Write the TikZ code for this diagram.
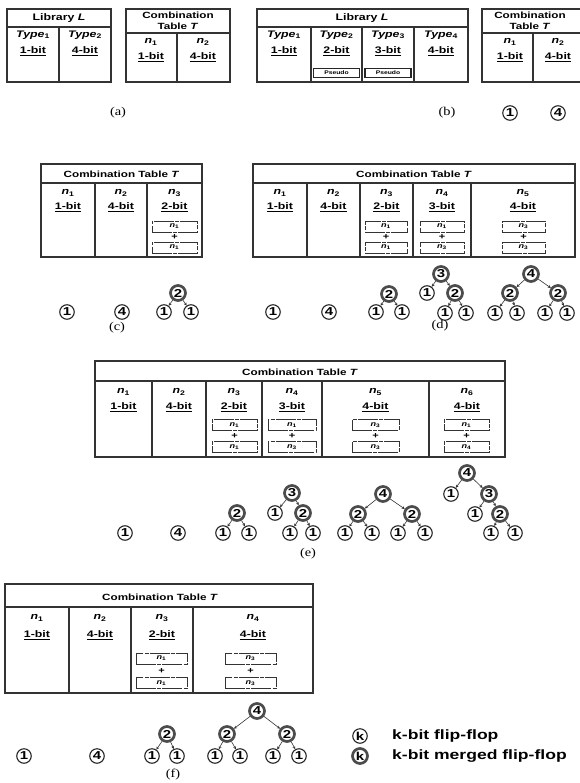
\documentclass[tikz,border=0pt]{standalone}
\usepackage{fontspec}
\setmainfont{Liberation Sans}[FakeStretch=1.3]
\newfontfamily\labfont{Liberation Serif}[FakeStretch=1.2]
\usetikzlibrary{arrows.meta}
\newcommand{\nn}[1]{\textit{n}\textsubscript{#1}}
\newcommand{\ty}[1]{\textit{Type}\textsubscript{#1}}
\newcommand{\ub}[1]{\underline{#1-bit}}
\tikzset{
 tbl/.style={draw=black!80,line width=1.2pt},
 tx/.style={inner sep=0pt,font=\fontsize{9.5}{10}\selectfont\bfseries},
 hd/.style={inner sep=0pt,font=\fontsize{9}{10.5}\selectfont\bfseries,align=center},
 sub/.style={draw=black!80,line width=0.8pt,dash pattern=on 20pt off 1.2pt on 4pt off 1.2pt,minimum height=11pt,inner sep=0pt,font=\fontsize{7}{7}\selectfont\bfseries},
 plus/.style={inner sep=0pt,font=\fontsize{8.5}{8}\selectfont\bfseries},
 ff/.style={circle,draw=black!85,line width=1.1pt,minimum size=14.5pt,inner sep=0pt,font=\fontsize{11.5}{11}\selectfont\bfseries},
 mff/.style={circle,draw=black!70,line width=2.7pt,minimum size=15pt,inner sep=0pt,font=\fontsize{11.5}{11}\selectfont\bfseries},
 arr/.style={-{Stealth[length=3pt,width=3pt]},draw=black!80,line width=0.6pt},
 lab/.style={inner sep=0pt,font=\labfont\fontsize{12}{12}\selectfont},
 pseudo/.style={draw=black!85,line width=1.3pt,inner sep=0pt,minimum width=46pt,minimum height=9.5pt,font=\fontsize{5.2}{5}\selectfont\bfseries},
 leg/.style={inner sep=0pt,anchor=west,font=\fontsize{13.5}{13}\selectfont\bfseries}
}
\begin{document}
\begin{tikzpicture}[x=1pt,y=-1pt]
\useasboundingbox (0,0) rectangle (579,783);
% ---------- (a) ----------
\draw[tbl] (7,9) rectangle (111,82) (7,27)--(111,27) (59,27)--(59,82);
\node[tx] (aLh) at (59,18) {Library \textit{L}};
\node[tx] (aLt1) at (33,35) {\ty{1}};
\node[tx] (aLb1) at (33,51) {\ub{1}};
\node[tx] (aLt2) at (85,35) {\ty{2}};
\node[tx] (aLb2) at (85,51) {\ub{4}};
\draw[tbl] (126,9) rectangle (230,82) (126,33)--(230,33) (177,33)--(177,82);
\node[hd] (aTh) at (178,21) {Combination\\Table \textit{T}};
\node[tx] (aTn1) at (151,42) {\nn{1}};
\node[tx] (aTb1) at (151,57) {\ub{1}};
\node[tx] (aTn2) at (203,42) {\nn{2}};
\node[tx] (aTb2) at (203,57) {\ub{4}};
\node[lab] (la) at (118,113) {(a)};
% ---------- (b) ----------
\draw[tbl] (257,9) rectangle (468,82) (257,27)--(468,27) (311,27)--(311,82) (362,27)--(362,82) (414,27)--(414,82);
\node[tx] (bLh) at (362,18) {Library \textit{L}};
\node[tx] (bLt1) at (284,35) {\ty{1}};
\node[tx] (bLb1) at (284,51) {\ub{1}};
\node[tx] (bLt2) at (336.5,35) {\ty{2}};
\node[tx] (bLb2) at (336.5,51) {\ub{2}};
\node[tx] (bLt3) at (388,35) {\ty{3}};
\node[tx] (bLb3) at (388,51) {\ub{3}};
\node[tx] (bLt4) at (441,35) {\ty{4}};
\node[tx] (bLb4) at (441,51) {\ub{4}};
\node[pseudo] (bP1) at (336.5,73) {Pseudo};
\node[pseudo] (bP2) at (388,73) {Pseudo};
\draw[tbl] (580,9)--(482,9)--(482,82)--(580,82) (482,33)--(580,33) (533,33)--(533,82);
\node[hd] (bTh) at (530,21) {Combination\\Table \textit{T}};
\node[tx] (bTn1) at (510,42) {\nn{1}};
\node[tx] (bTb1) at (510,57) {\ub{1}};
\node[tx] (bTn2) at (558,42) {\nn{2}};
\node[tx] (bTb2) at (558,57) {\ub{4}};
\node[lab] (lb) at (447,113) {(b)};
\node[ff] (b1) at (510,113) {1};
\node[ff] (b4) at (558,113) {4};
% ---------- (c) ----------
\draw[tbl] (41,164) rectangle (202,257) (41,183)--(202,183) (95,183)--(95,257) (147,183)--(147,257);
\node[hd] (cTh) at (121.5,174) {Combination Table \textit{T}};
\node[tx] (cn1) at (68,193) {\nn{1}};
\node[tx] (cb1) at (68,207) {\ub{1}};
\node[tx] (cn2) at (121,193) {\nn{2}};
\node[tx] (cb2) at (121,207) {\ub{4}};
\node[tx] (cn3) at (174.5,193) {\nn{3}};
\node[tx] (cb3) at (174.5,207) {\ub{2}};
\node[sub,minimum width=45pt] (cs3a) at (174.5,226.5) {\nn{1}};
\node[plus] (cp3) at (174.5,237) {+};
\node[sub,minimum width=45pt] (cs3b) at (174.5,247.5) {\nn{1}};
\node[ff] (c1) at (67,312) {1};
\node[ff] (c4) at (122,312) {4};
\node[mff] (c3r) at (178,293) {2};
\node[ff] (c3a) at (164,312) {1};
\node[ff] (c3b) at (191,312) {1};
\draw[arr] (c3r)--(c3a); \draw[arr] (c3r)--(c3b);
\node[lab] (lc) at (117,328) {(c)};
% ---------- (d) ----------
\draw[tbl] (253,164) rectangle (575,257) (253,183)--(575,183) (307,183)--(307,257) (360,183)--(360,257) (413,183)--(413,257) (471,183)--(471,257);
\node[hd] (dTh) at (414,174) {Combination Table \textit{T}};
\node[tx] (dn1) at (280,193) {\nn{1}};
\node[tx] (db1) at (280,207) {\ub{1}};
\node[tx] (dn2) at (333.5,193) {\nn{2}};
\node[tx] (db2) at (333.5,207) {\ub{4}};
\node[tx] (dn3) at (386.5,193) {\nn{3}};
\node[tx] (db3) at (386.5,207) {\ub{2}};
\node[tx] (dn4) at (442,193) {\nn{4}};
\node[tx] (db4) at (442,207) {\ub{3}};
\node[tx] (dn5) at (523,193) {\nn{5}};
\node[tx] (db5) at (523,207) {\ub{4}};
\node[sub,minimum width=42pt] (ds3a) at (386,226.5) {\nn{1}};
\node[plus] (dp3) at (386,237) {+};
\node[sub,minimum width=42pt] (ds3b) at (386,247.5) {\nn{1}};
\node[sub,minimum width=44pt] (ds4a) at (442,226.5) {\nn{1}};
\node[plus] (dp4) at (442,237) {+};
\node[sub,minimum width=44pt] (ds4b) at (442,247.5) {\nn{3}};
\node[sub,minimum width=43pt] (ds5a) at (523.5,226.5) {\nn{3}};
\node[plus] (dp5) at (523.5,237) {+};
\node[sub,minimum width=43pt] (ds5b) at (523.5,247.5) {\nn{3}};
\node[ff] (d1) at (273,312) {1};
\node[ff] (d4) at (329,312) {4};
\node[mff] (d3r) at (389,294) {2};
\node[ff] (d3a) at (376,312) {1};
\node[ff] (d3b) at (402,312) {1};
\draw[arr] (d3r)--(d3a); \draw[arr] (d3r)--(d3b);
\node[mff] (d4r) at (441,274) {3};
\node[ff] (d4a) at (427,293) {1};
\node[mff] (d4b) at (455,293) {2};
\node[ff] (d4c) at (445,313) {1};
\node[ff] (d4d) at (466,313) {1};
\draw[arr] (d4r)--(d4a); \draw[arr] (d4r)--(d4b);
\draw[arr] (d4b)--(d4c); \draw[arr] (d4b)--(d4d);
\node[mff] (d5r) at (531,274) {4};
\node[mff] (d5a) at (510,293) {2};
\node[mff] (d5b) at (558,293) {2};
\node[ff] (d5c) at (495,313) {1};
\node[ff] (d5d) at (517,313) {1};
\node[ff] (d5e) at (545,313) {1};
\node[ff] (d5f) at (567,313) {1};
\draw[arr] (d5r)--(d5a); \draw[arr] (d5r)--(d5b);
\draw[arr] (d5a)--(d5c); \draw[arr] (d5a)--(d5d);
\draw[arr] (d5b)--(d5e); \draw[arr] (d5b)--(d5f);
\node[lab] (ld) at (440,326) {(d)};
% ---------- (e) ----------
\draw[tbl] (95,361) rectangle (505,457) (95,381)--(505,381) (152,381)--(152,457) (206,381)--(206,457) (262,381)--(262,457) (322,381)--(322,457) (429,381)--(429,457);
\node[hd] (eTh) at (300,372) {Combination Table \textit{T}};
\node[tx] (en1) at (123.5,392) {\nn{1}};
\node[tx] (eb1) at (123.5,407) {\ub{1}};
\node[tx] (en2) at (179,392) {\nn{2}};
\node[tx] (eb2) at (179,407) {\ub{4}};
\node[tx] (en3) at (234,392) {\nn{3}};
\node[tx] (eb3) at (234,407) {\ub{2}};
\node[tx] (en4) at (292,392) {\nn{4}};
\node[tx] (eb4) at (292,407) {\ub{3}};
\node[tx] (en5) at (375.5,392) {\nn{5}};
\node[tx] (eb5) at (375.5,407) {\ub{4}};
\node[tx] (en6) at (467,392) {\nn{6}};
\node[tx] (eb6) at (467,407) {\ub{4}};
\node[sub,minimum width=45pt] (es3a) at (234.5,425) {\nn{1}};
\node[plus] (ep3) at (234.5,436) {+};
\node[sub,minimum width=45pt] (es3b) at (234.5,447) {\nn{1}};
\node[sub,minimum width=48pt] (es4a) at (292,425) {\nn{1}};
\node[plus] (ep4) at (292,436) {+};
\node[sub,minimum width=48pt] (es4b) at (292,447) {\nn{3}};
\node[sub,minimum width=47pt] (es5a) at (375.5,425) {\nn{3}};
\node[plus] (ep5) at (375.5,436) {+};
\node[sub,minimum width=47pt] (es5b) at (375.5,447) {\nn{3}};
\node[sub,minimum width=45pt] (es6a) at (466.5,425) {\nn{1}};
\node[plus] (ep6) at (466.5,436) {+};
\node[sub,minimum width=45pt] (es6b) at (466.5,447) {\nn{4}};
\node[ff] (e1) at (125,533) {1};
\node[ff] (e4) at (178,533) {4};
\node[mff] (e3r) at (237,513) {2};
\node[ff] (e3a) at (223,533) {1};
\node[ff] (e3b) at (249,533) {1};
\draw[arr] (e3r)--(e3a); \draw[arr] (e3r)--(e3b);
\node[mff] (e4r) at (292,493) {3};
\node[ff] (e4a) at (275,513) {1};
\node[mff] (e4b) at (303,513) {2};
\node[ff] (e4c) at (290,533) {1};
\node[ff] (e4d) at (313,533) {1};
\draw[arr] (e4r)--(e4a); \draw[arr] (e4r)--(e4b);
\draw[arr] (e4b)--(e4c); \draw[arr] (e4b)--(e4d);
\node[mff] (e5r) at (383,494) {4};
\node[mff] (e5a) at (358,514) {2};
\node[mff] (e5b) at (412,514) {2};
\node[ff] (e5c) at (345,533) {1};
\node[ff] (e5d) at (372,533) {1};
\node[ff] (e5e) at (398,533) {1};
\node[ff] (e5f) at (425,533) {1};
\draw[arr] (e5r)--(e5a); \draw[arr] (e5r)--(e5b);
\draw[arr] (e5a)--(e5c); \draw[arr] (e5a)--(e5d);
\draw[arr] (e5b)--(e5e); \draw[arr] (e5b)--(e5f);
\node[mff] (e6r) at (467,473) {4};
\node[ff] (e6a) at (451,494) {1};
\node[mff] (e6b) at (489,494) {3};
\node[ff] (e6c) at (475,514) {1};
\node[mff] (e6d) at (500,514) {2};
\node[ff] (e6e) at (491,533) {1};
\node[ff] (e6f) at (515,533) {1};
\draw[arr] (e6r)--(e6a); \draw[arr] (e6r)--(e6b);
\draw[arr] (e6b)--(e6c); \draw[arr] (e6b)--(e6d);
\draw[arr] (e6d)--(e6e); \draw[arr] (e6d)--(e6f);
\node[lab] (le) at (308,554) {(e)};
% ---------- (f) ----------
\draw[tbl] (5,584) rectangle (313,693) (5,607)--(313,607) (69,607)--(69,693) (131,607)--(131,693) (193,607)--(193,693);
\node[hd] (fTh) at (160,597) {Combination Table \textit{T}};
\node[tx] (fn1) at (37,618) {\nn{1}};
\node[tx] (fb1) at (37,635) {\ub{1}};
\node[tx] (fn2) at (100,618) {\nn{2}};
\node[tx] (fb2) at (100,635) {\ub{4}};
\node[tx] (fn3) at (162,618) {\nn{3}};
\node[tx] (fb3) at (162,635) {\ub{2}};
\node[tx] (fn4) at (253,618) {\nn{4}};
\node[tx] (fb4) at (253,635) {\ub{4}};
\node[sub,minimum width=51pt] (fs3a) at (161.5,658.5) {\nn{1}};
\node[plus] (fp3) at (161.5,671) {+};
\node[sub,minimum width=51pt] (fs3b) at (161.5,683) {\nn{1}};
\node[sub,minimum width=51pt] (fs4a) at (250.5,658.5) {\nn{3}};
\node[plus] (fp4) at (250.5,671) {+};
\node[sub,minimum width=51pt] (fs4b) at (250.5,683) {\nn{3}};
\node[ff] (f1) at (24,756) {1};
\node[ff] (f4) at (97,756) {4};
\node[mff] (f3r) at (167,734) {2};
\node[ff] (f3a) at (152,756) {1};
\node[ff] (f3b) at (177,756) {1};
\draw[arr] (f3r)--(f3a); \draw[arr] (f3r)--(f3b);
\node[mff] (f4r) at (257,711) {4};
\node[mff] (f4a) at (227,734) {2};
\node[mff] (f4b) at (287,734) {2};
\node[ff] (f4c) at (215,756) {1};
\node[ff] (f4d) at (240,756) {1};
\node[ff] (f4e) at (273,756) {1};
\node[ff] (f4f) at (299,756) {1};
\draw[arr] (f4r)--(f4a); \draw[arr] (f4r)--(f4b);
\draw[arr] (f4a)--(f4c); \draw[arr] (f4a)--(f4d);
\draw[arr] (f4b)--(f4e); \draw[arr] (f4b)--(f4f);
\node[lab] (lf) at (173,775) {(f)};
% ---------- legend ----------
\node[ff] (k1) at (360,736) {k};
\node[leg] (k1t) at (392,736) {k-bit flip-flop};
\node[mff] (k2) at (360,756) {k};
\node[leg] (k2t) at (392,756) {k-bit merged flip-flop};
\end{tikzpicture}
\end{document}
